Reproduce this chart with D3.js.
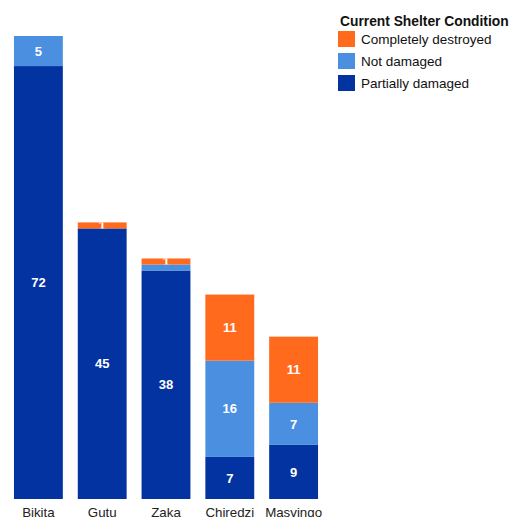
<!DOCTYPE html>
<html>
<head>
<meta charset="utf-8">
<script src="https://cdn.jsdelivr.net/npm/d3@7"></script>
<style>
  html, body { margin: 0; padding: 0; background: #fff; }
  svg { display: block; font-family: "Liberation Sans", Arial, sans-serif; }
</style>
</head>
<body>
<svg id="chart" width="523" height="517"></svg>
<script>
// Districts along the x axis
const districts = ["Bikita", "Gutu", "Zaka", "Chiredzi", "Masvingo"];

// Household counts per shelter condition (stacked bottom to top)
const partiallyDamaged = [72, 45, 38, 7, 9];
const notDamaged = [5, 0, 1, 16, 7];
const completelyDestroyed = [0, 1, 1, 11, 11];

// Legend entries, listed top to bottom
const legendTitle = "Current Shelter Condition";
const legendLabels = ["Completely destroyed", "Not damaged", "Partially damaged"];

const colors = {
  "Partially damaged": "#0333a0",
  "Not damaged": "#4a8fe0",
  "Completely destroyed": "#ff6a1c"
};

const seriesKeys = ["Partially damaged", "Not damaged", "Completely destroyed"];
const rows = districts.map((d, i) => ({
  district: d,
  "Partially damaged": partiallyDamaged[i],
  "Not damaged": notDamaged[i],
  "Completely destroyed": completelyDestroyed[i]
}));

const svg = d3.select("#chart");

const baseY = 499;
const x = d3.scaleBand()
  .domain(districts)
  .range([6.5, 325.5])
  .paddingInner(0.234)
  .paddingOuter(0.117);

const y = d3.scaleLinear()
  .domain([0, 77])
  .range([baseY, 36]);

const stacked = d3.stack().keys(seriesKeys)(rows);

const defs = svg.append("defs");
const plot = svg.append("g");
const labelLayer = svg.append("g");

// Segments
stacked.forEach(series => {
  plot.append("g")
    .selectAll("rect")
    .data(series.filter(s => s[1] - s[0] > 0))
    .join("rect")
    .attr("x", d => x(d.data.district))
    .attr("y", d => y(d[1]))
    .attr("width", x.bandwidth())
    .attr("height", d => y(d[0]) - y(d[1]))
    .attr("fill", colors[series.key]);
});

// Value labels: top series placed first, overlapping labels are skipped,
// each label is clipped to its own segment.
const glyphH = 10;
const placed = {};
let clipId = 0;
stacked.slice().reverse().forEach(series => {
  series.forEach(seg => {
    const v = seg[1] - seg[0];
    if (v <= 0) return;
    const d = seg.data.district;
    const x0 = x(d);
    const y0 = y(seg[1]);
    const h = y(seg[0]) - y(seg[1]);
    const cy = y0 + h / 2;
    const box = [cy - glyphH / 2, cy + glyphH / 2];
    placed[d] = placed[d] || [];
    if (placed[d].some(b => b[0] < box[1] && box[0] < b[1])) return;
    placed[d].push(box);

    const id = "seg-clip-" + (clipId++);
    defs.append("clipPath").attr("id", id)
      .append("rect")
      .attr("x", x0).attr("y", y0)
      .attr("width", x.bandwidth()).attr("height", h);
    labelLayer.append("text")
      .attr("clip-path", `url(#${id})`)
      .attr("x", x0 + x.bandwidth() / 2)
      .attr("y", cy)
      .attr("dy", "0.36em")
      .attr("text-anchor", "middle")
      .attr("fill", "#fff")
      .attr("font-size", 13)
      .attr("font-weight", "bold")
      .text(v);
  });
});

// Category axis labels
const xAxis = svg.append("g")
  .attr("transform", `translate(0,${baseY})`)
  .call(d3.axisBottom(x).tickSize(0).tickPadding(9));
xAxis.select(".domain").remove();
xAxis.selectAll("text")
  .attr("font-family", "'Liberation Sans', Arial, sans-serif")
  .attr("font-size", 13.3)
  .attr("fill", "#222");

// Legend
const legend = svg.append("g").attr("transform", "translate(338,0)");
legend.append("text")
  .attr("x", 2)
  .attr("y", 26)
  .attr("font-size", 13.8)
  .attr("font-weight", "bold")
  .attr("fill", "#111")
  .text(legendTitle);

const item = legend.selectAll("g.item")
  .data(legendLabels)
  .join("g")
  .attr("class", "item")
  .attr("transform", (d, i) => `translate(0,${31 + i * 22})`);
item.append("rect")
  .attr("width", 17)
  .attr("height", 16)
  .attr("fill", d => colors[d]);
item.append("text")
  .attr("x", 23)
  .attr("y", 13)
  .attr("font-size", 13.5)
  .attr("fill", "#111")
  .text(d => d);
</script>
</body>
</html>
